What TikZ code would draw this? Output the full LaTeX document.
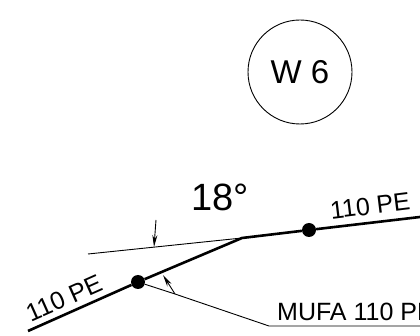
\documentclass[tikz,border=0pt]{standalone}
\usepackage{fontspec}
\setmainfont{Liberation Sans}
\usetikzlibrary{arrows.meta}
\tikzset{
	rura/.style={line width=2.6pt,color=black},
	cienka/.style={line width=0.9pt,color=black},
	strzalka/.style={cienka,-{Stealth[length=12pt,width=5pt]}},
	punkt/.style={circle,fill=black,inner sep=0pt,minimum size=14pt},
	napis/.style={inner sep=0pt,font=\fontsize{25pt}{27pt}\selectfont}
}
\begin{document}
\begin{tikzpicture}[x=1pt,y=-1pt]
		\useasboundingbox (0,0) rectangle (420,336);
		\node[circle,draw,line width=0.9pt,minimum size=104pt,inner sep=0pt,font=\fontsize{33pt}{36pt}\selectfont] (w6) at (300,72) {W 6\hspace{6pt}};
		\node[inner sep=0pt,font=\fontsize{38pt}{40pt}\selectfont] (kat) at (220,197) {18°};
		\coordinate (start) at (28,331);
		\node[punkt] (d1) at (138,282) {};
		\coordinate (bend) at (242,238);
		\node[punkt] (d2) at (309,230) {};
		\coordinate (end) at (420,217);
		\draw[rura] (start) -- (d1) -- (bend) -- (d2) -- (end);
		\coordinate (thin) at (88,254);
		\draw[cienka] (bend) -- (thin);
		\coordinate (s1) at (156,220);
		\coordinate (s2) at (154,247);
		\draw[strzalka] (s1) -- (s2);
		\coordinate (m1) at (175,294);
		\coordinate (m2) at (269,326);
		\coordinate (m3) at (420,326);
		\coordinate (s3) at (163,275);
		\draw[cienka] (d1) -- (m1) -- (m2) -- (m3);
		\draw[strzalka] (m1) -- (s3);
		\node[napis,rotate=24] (lab1) at (64,298) {110 PE};
		\node[napis,rotate=7] (lab2) at (370,206) {110 PE};
		\node[napis,anchor=base west] (lab3) at (277,321) {MUFA 110 PE};
	\end{tikzpicture}
\end{document}
